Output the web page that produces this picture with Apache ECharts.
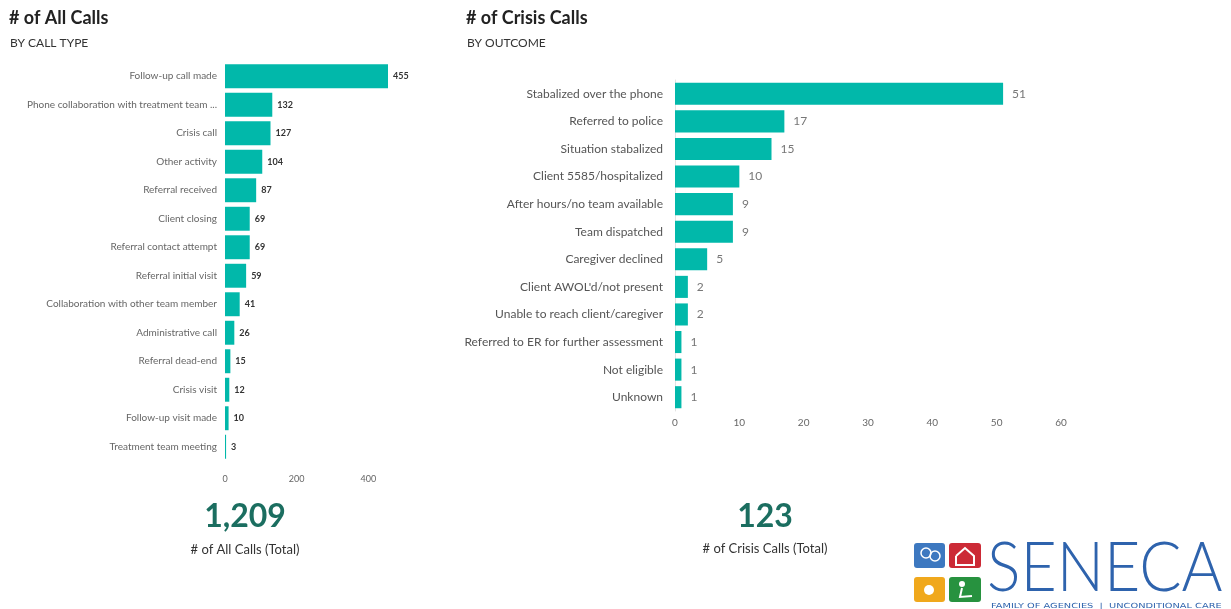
<!DOCTYPE html>
<html>
<head>
<meta charset="utf-8">
<script src="https://cdn.jsdelivr.net/npm/echarts@6/dist/echarts.min.js"></script>
<style>
html,body{margin:0;padding:0;background:#fff;}
#chart{width:1231px;height:609px;}
</style>
</head>
<body>
<div id="chart"></div>
<script>
// ---- Data ----
const callTypes = [
  "Follow-up call made",
  "Phone collaboration with treatment team member",
  "Crisis call",
  "Other activity",
  "Referral received",
  "Client closing",
  "Referral contact attempt",
  "Referral initial visit",
  "Collaboration with other team member",
  "Administrative call",
  "Referral dead-end",
  "Crisis visit",
  "Follow-up visit made",
  "Treatment team meeting"
];
const callCounts = [455, 132, 127, 104, 87, 69, 69, 59, 41, 26, 15, 12, 10, 3];

const outcomes = [
  "Stabalized over the phone",
  "Referred to police",
  "Situation stabalized",
  "Client 5585/hospitalized",
  "After hours/no team available",
  "Team dispatched",
  "Caregiver declined",
  "Client AWOL'd/not present",
  "Unable to reach client/caregiver",
  "Referred to ER for further assessment",
  "Not eligible",
  "Unknown"
];
const crisisCounts = [51, 17, 15, 10, 9, 9, 5, 2, 2, 1, 1, 1];

const leftTicks = [0, 200, 400];
const rightTicks = [0, 10, 20, 30, 40, 50, 60];

const totalAll = callCounts.reduce((a, b) => a + b, 0);
const totalCrisis = crisisCounts.reduce((a, b) => a + b, 0);

const teal = '#01B8AA';
const chart = echarts.init(document.getElementById('chart'));

const option = {
  backgroundColor: '#fff',
  animation: false,
  title: [
    { text: '# of All Calls', left: 9, top: 9, padding: 0, textStyle: { fontFamily: 'Lato', fontSize: 18, fontWeight: 'bold', color: '#222' } },
    { text: 'BY CALL TYPE', left: 10, top: 37, padding: 0, textStyle: { fontFamily: 'Lato', fontSize: 12, fontWeight: 'normal', color: '#333' } },
    { text: '# of Crisis Calls', left: 466, top: 9, padding: 0, textStyle: { fontFamily: 'Lato', fontSize: 18, fontWeight: 'bold', color: '#222' } },
    { text: 'BY OUTCOME', left: 467, top: 37, padding: 0, textStyle: { fontFamily: 'Lato', fontSize: 12, fontWeight: 'normal', color: '#333' } }
  ],
  grid: [
    { left: 225, top: 62, width: 163, height: 399 },
    { left: 675, top: 80, width: 386, height: 331 }
  ],
  xAxis: [
    {
      gridIndex: 0, type: 'value', min: leftTicks[0], max: 455, interval: 200,
      splitLine: { show: false }, axisLine: { show: false }, axisTick: { show: false },
      axisLabel: { color: '#666', fontSize: 9, fontFamily: 'Lato', margin: 14, customValues: leftTicks }
    },
    {
      gridIndex: 1, type: 'value', min: rightTicks[0], max: 60, interval: 10,
      splitLine: { show: false }, axisLine: { show: false }, axisTick: { show: false },
      axisLabel: { color: '#666', fontSize: 10, fontFamily: 'Lato', margin: 7, customValues: rightTicks }
    }
  ],
  yAxis: [
    {
      gridIndex: 0, type: 'category', data: callTypes, inverse: true,
      axisLine: { show: false }, axisTick: { show: false },
      axisLabel: { color: '#666', fontSize: 10, fontFamily: 'Lato', margin: 8, width: 196, overflow: 'truncate', ellipsis: '...' }
    },
    {
      gridIndex: 1, type: 'category', data: outcomes, inverse: true,
      axisLine: { show: true, lineStyle: { color: '#e2e2e2', width: 1 } }, axisTick: { show: false },
      axisLabel: { color: '#555', fontSize: 12, fontFamily: 'Lato', margin: 12 }
    }
  ],
  series: [
    {
      type: 'bar', xAxisIndex: 0, yAxisIndex: 0, data: callCounts,
      barCategoryGap: '16%', itemStyle: { color: teal },
      label: { show: true, position: 'right', distance: 5, color: '#333', fontSize: 9, fontWeight: 'bold', fontFamily: 'Lato' }
    },
    {
      type: 'bar', xAxisIndex: 1, yAxisIndex: 1, data: crisisCounts,
      barCategoryGap: '20%', itemStyle: { color: teal },
      label: { show: true, position: 'right', distance: 9, color: '#777', fontSize: 12, fontFamily: 'Lato' }
    }
  ],
  graphic: [
    { type: 'text', x: 245, y: 517, style: { text: totalAll.toLocaleString('en-US'), align: 'center', verticalAlign: 'middle', font: 'bold 32px Lato', fill: '#1b6e60' } },
    { type: 'text', x: 245, y: 550, style: { text: '# of All Calls (Total)', align: 'center', verticalAlign: 'middle', font: '13px Lato', fill: '#333' } },
    { type: 'text', x: 765, y: 517, style: { text: String(totalCrisis), align: 'center', verticalAlign: 'middle', font: 'bold 32px Lato', fill: '#1b6e60' } },
    { type: 'text', x: 765, y: 549, style: { text: '# of Crisis Calls (Total)', align: 'center', verticalAlign: 'middle', font: '13px Lato', fill: '#333' } },
    // Logo
    { type: 'rect', shape: { x: 914, y: 543, width: 31, height: 25, r: 3 }, style: { fill: '#3d78c0' } },
    { type: 'rect', shape: { x: 949, y: 543, width: 32, height: 25, r: 3 }, style: { fill: '#cc2a36' } },
    { type: 'rect', shape: { x: 914, y: 577, width: 31, height: 25, r: 3 }, style: { fill: '#f0a81c' } },
    { type: 'rect', shape: { x: 949, y: 577, width: 32, height: 25, r: 3 }, style: { fill: '#27923f' } },
    { type: 'polyline', shape: { points: [[956, 556], [965, 548], [974, 556], [974, 565], [956, 565], [956, 556]] }, style: { stroke: '#fff', lineWidth: 2, fill: 'none' } },
    { type: 'circle', shape: { cx: 929, cy: 590, r: 5 }, style: { fill: '#fff' } },
    { type: 'circle', shape: { cx: 926, cy: 553, r: 5 }, style: { fill: 'none', stroke: '#fff', lineWidth: 1.5 } },
    { type: 'circle', shape: { cx: 935, cy: 556, r: 5 }, style: { fill: 'none', stroke: '#fff', lineWidth: 1.5 } },
    { type: 'circle', shape: { cx: 962, cy: 584, r: 3 }, style: { fill: '#fff' } },
    { type: 'polyline', shape: { points: [[962, 588], [960, 597], [972, 596]] }, style: { stroke: '#fff', lineWidth: 2, fill: 'none' } },
    { type: 'text', x: 987, y: 569, scaleX: 0.92, style: { text: 'SENECA', verticalAlign: 'middle', font: '300 68px Lato', fill: '#2e63ad' } },
    { type: 'text', x: 991, y: 606, scaleX: 1.4, style: { text: 'FAMILY OF AGENCIES  |  UNCONDITIONAL CARE', verticalAlign: 'middle', font: '7px "DejaVu Sans"', fill: '#2e63ad' } }
  ]
};
chart.setOption(option);
</script>
</body>
</html>
